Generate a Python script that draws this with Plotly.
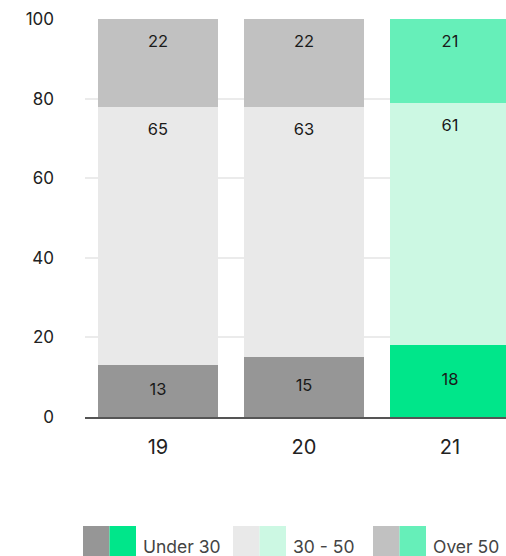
import plotly.graph_objects as go

categories = ["19", "20", "21"]
series_names = ["Under 30", "30 - 50", "Over 50"]
under_30 = [13, 15, 18]
mid_30_50 = [65, 63, 61]
over_50 = [22, 22, 21]
y_ticks = [0, 20, 40, 60, 80, 100]

gray_colors = ["#969696", "#e9e9e9", "#c1c1c1"]
green_colors = ["#00e68a", "#ccf8e3", "#66efb9"]
highlight = [False, False, True]

W, H = 506, 556
ML, MR, MT, MB = 85, 0, 19, 139
PW, PH = W - ML - MR, H - MT - MB

def px_x(px):
    return (px - ML) / PW

def px_y(py):
    return (MT + PH - py) / PH

fig = go.Figure()
series = [under_30, mid_30_50, over_50]
for i, (name, vals) in enumerate(zip(series_names, series)):
    colors = [green_colors[i] if h else gray_colors[i] for h in highlight]
    fig.add_trace(go.Bar(
        x=categories, y=vals, name=name, marker=dict(color=colors, line=dict(width=0)),
        showlegend=False, hoverinfo="skip",
    ))

# labels
unit_px = PH / 100.0
offset = 24 / unit_px
cum = [0, 0, 0]
for i, vals in enumerate(series):
    ys = []
    for j, v in enumerate(vals):
        if i == 0:
            ys.append(cum[j] + v / 2)
        else:
            ys.append(cum[j] + v - offset)
        cum[j] += v
    fig.add_trace(go.Scatter(
        x=categories, y=ys, mode="text", text=[str(v) for v in vals],
        textposition="middle center",
        textfont=dict(family="Inter", size=16.5, color="#1a1a1a"),
        showlegend=False, hoverinfo="skip", cliponaxis=False,
    ))

# custom legend with dual swatches
legend_x = [83, 233, 373]
sw_w = 26.5
shapes = []
annotations = []
for i, name in enumerate(series_names):
    x0 = legend_x[i]
    shapes.append(dict(type="rect", xref="paper", yref="paper",
                       x0=px_x(x0), x1=px_x(x0 + sw_w), y0=px_y(560), y1=px_y(526),
                       fillcolor=gray_colors[i], line=dict(width=0), layer="above"))
    shapes.append(dict(type="rect", xref="paper", yref="paper",
                       x0=px_x(x0 + sw_w), x1=px_x(x0 + 2 * sw_w), y0=px_y(560), y1=px_y(526),
                       fillcolor=green_colors[i], line=dict(width=0), layer="above"))
    annotations.append(dict(xref="paper", yref="paper", x=px_x(x0 + 2 * sw_w + 5), y=px_y(546),
                            text=name, showarrow=False, xanchor="left", yanchor="middle",
                            font=dict(family="Inter", size=17.5, color="#444444")))

fig.update_layout(
    width=W, height=H,
    margin=dict(l=ML, r=MR, t=MT, b=MB, pad=0),
    barmode="stack", bargap=0.178,
    plot_bgcolor="white", paper_bgcolor="white",
    font=dict(family="Inter", color="#222222"),
    shapes=shapes, annotations=annotations,
    xaxis=dict(type="category", range=[-0.5, -0.5 + PW / 146.0],
               showline=True, linecolor="#555555", linewidth=2,
               showgrid=False, ticks="", tickfont=dict(size=20, color="#222222"),
               ticklabelstandoff=11, fixedrange=True),
    yaxis=dict(range=[0, 100], tickvals=y_ticks, showgrid=True, gridcolor="#ebebeb",
               gridwidth=2, zeroline=False, showline=False, ticks="",
               tickfont=dict(size=17, color="#222222"), ticklabelstandoff=30,
               fixedrange=True),
    showlegend=False,
)

fig.write_html("out.html")
